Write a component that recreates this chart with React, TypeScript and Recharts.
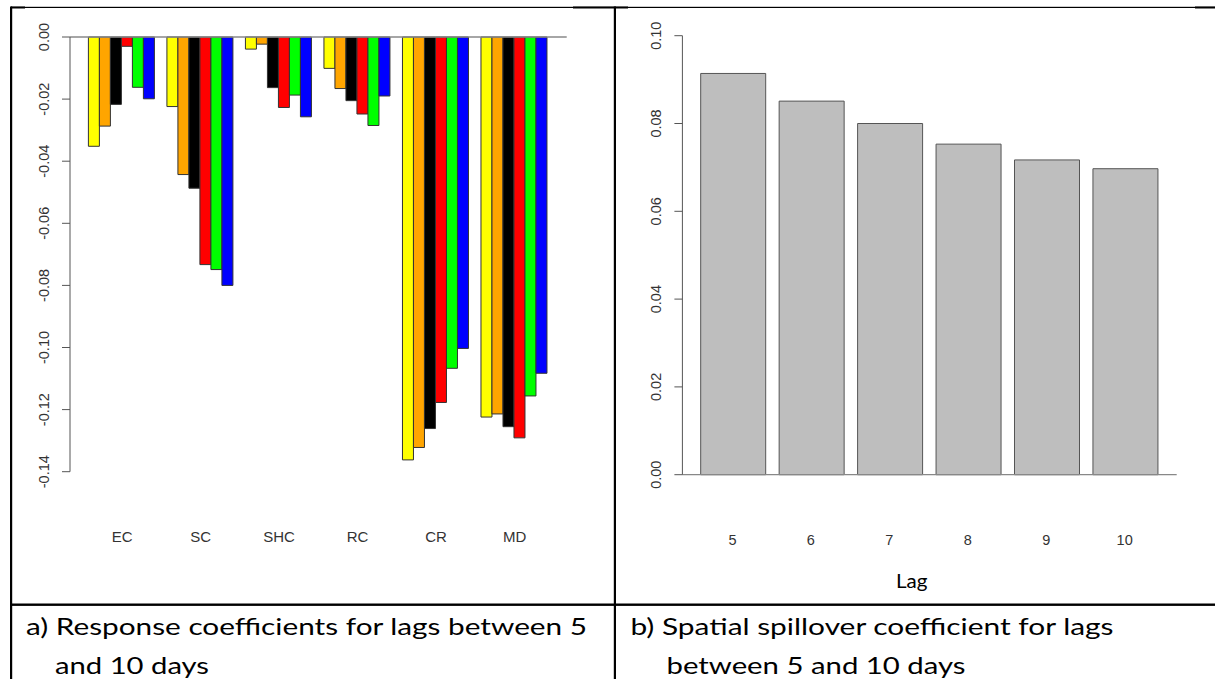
import React from 'react'
import { BarChart, Bar, XAxis, YAxis, ReferenceLine } from 'recharts'

// a) response coefficients, one array per lag (5..10 days)
const categories = ['EC', 'SC', 'SHC', 'RC', 'CR', 'MD']
const lag5 = [-0.0352, -0.0224, -0.0039, -0.0101, -0.1362, -0.1224]
const lag6 = [-0.0287, -0.0443, -0.0023, -0.0166, -0.1322, -0.1214]
const lag7 = [-0.0217, -0.0487, -0.0163, -0.0205, -0.1261, -0.1255]
const lag8 = [-0.003, -0.0733, -0.0227, -0.0248, -0.1177, -0.1291]
const lag9 = [-0.0162, -0.0749, -0.0187, -0.0285, -0.1067, -0.1156]
const lag10 = [-0.0199, -0.08, -0.0257, -0.019, -0.1003, -0.1083]
const lagColors = ['#ffff00', '#ffa500', '#000000', '#ff0000', '#00ff00', '#0000ff']
const leftTicks = [0, -0.02, -0.04, -0.06, -0.08, -0.1, -0.12, -0.14]

// b) spatial spillover coefficient
const lags = ['5', '6', '7', '8', '9', '10']
const spillover = [0.0914, 0.0851, 0.08, 0.0753, 0.0717, 0.0697]
const rightTicks = [0, 0.02, 0.04, 0.06, 0.08, 0.1]

const responseData = categories.map((name, i) => ({
  name,
  l5: lag5[i], l6: lag6[i], l7: lag7[i], l8: lag8[i], l9: lag9[i], l10: lag10[i],
}))
const seriesKeys = ['l5', 'l6', 'l7', 'l8', 'l9', 'l10']
const spillData = lags.map((lag, i) => ({ lag, value: spillover[i] }))

const rFont = '"Liberation Sans", Arial, sans-serif'
const wordFont = 'Lato, "Open Sans", sans-serif'

// R style y tick: label parallel to axis
function RotTick(props: any) {
  const { x, y, payload } = props
  const bx = x - 11
  return (
    <text x={bx} y={y} transform={`rotate(-90, ${bx}, ${y})`} textAnchor="middle"
      fontSize={14.5} fontFamily={rFont} fill="#333">
      {payload.value.toFixed(2)}
    </text>
  )
}

function CatTick(props: any) {
  const { x, y, payload } = props
  return (
    <text x={x} y={y + 70} textAnchor="middle" fontSize={15} fontFamily={rFont} fill="#333">
      {payload.value}
    </text>
  )
}

function LagTick(props: any) {
  const { x, y, payload } = props
  return (
    <text x={x - 1} y={y + 70} textAnchor="middle" fontSize={14.5} fontFamily={rFont} fill="#333">
      {payload.value}
    </text>
  )
}

export default function App() {
  return (
    <div style={{ position: 'absolute', left: 0, top: 0, width: 1215, height: 679, background: '#fff', overflow: 'hidden' }}>
      <div style={{ position: 'absolute', left: 0, top: 0 }}>
        <BarChart width={614} height={600} data={responseData} barGap={0} barCategoryGap={5.6}
          margin={{ top: 37, right: 47.3, bottom: 98.3, left: 10 }}>
          <XAxis dataKey="name" axisLine={false} tickLine={false} tickSize={0} tickMargin={0}
            height={30} padding={{ left: 12.8, right: 12.8 }} tick={<CatTick />} interval={0} />
          <YAxis domain={[-0.14, 0]} ticks={leftTicks} width={60} tickSize={8} tickMargin={2}
            axisLine={{ stroke: '#555' }} tickLine={{ stroke: '#555' }} tick={<RotTick />} interval={0} />
          {seriesKeys.map((k, i) => (
            <Bar key={k} dataKey={k} fill={lagColors[i]} stroke="#333" strokeWidth={1} isAnimationActive={false} />
          ))}
          <ReferenceLine y={0} stroke="#888" strokeWidth={1.3} />
        </BarChart>
      </div>
      <div style={{ position: 'absolute', left: 614, top: 0 }}>
        <BarChart width={601} height={600} data={spillData} barCategoryGap={6.5}
          margin={{ top: 35.7, right: 38.3, bottom: 95.3, left: 8.4 }}>
          <XAxis dataKey="lag" axisLine={false} tickLine={false} tickSize={0} tickMargin={0}
            height={30} padding={{ left: 11.8, right: 11.8 }} tick={<LagTick />} interval={0} />
          <YAxis domain={[0, 0.1]} ticks={rightTicks} width={60} tickSize={8} tickMargin={2}
            axisLine={{ stroke: '#555' }} tickLine={{ stroke: '#555' }} tick={<RotTick />} interval={0} />
          <Bar dataKey="value" fill="#bebebe" stroke="#555" strokeWidth={1} isAnimationActive={false} />
          <ReferenceLine y={0} stroke="#888" strokeWidth={1.3} />
        </BarChart>
      </div>
      <svg width={1215} height={679} style={{ position: 'absolute', left: 0, top: 0, pointerEvents: 'none' }}>
        {/* table borders */}
        <rect x={11} y={6.8} width={1204} height={1.2} fill="#000" />
        <rect x={11} y={6.5} width={14} height={2} fill="#000" />
        <rect x={573} y={6.5} width={55} height={2} fill="#000" />
        <rect x={1195} y={6.5} width={20} height={2} fill="#000" />
        <rect x={10} y={6.5} width={2.2} height={673} fill="#000" />
        <rect x={613.8} y={6.5} width={2.2} height={673} fill="#000" />
        <rect x={10} y={603.5} width={1205} height={2.4} fill="#000" />
        <text x={896} y={588} fontSize={18.5} fontFamily={wordFont} fill="#000"
          textLength={31.5} lengthAdjust="spacingAndGlyphs">Lag</text>
        <g fontSize={23} fontFamily={wordFont} fill="#000">
          <text x={26} y={635} textLength={561} lengthAdjust="spacingAndGlyphs">a) Response coefficients for lags between 5</text>
          <text x={55} y={674} textLength={154} lengthAdjust="spacingAndGlyphs">and 10 days</text>
          <text x={630.5} y={635} textLength={483} lengthAdjust="spacingAndGlyphs">b) Spatial spillover coefficient for lags</text>
          <text x={666.5} y={674} textLength={299} lengthAdjust="spacingAndGlyphs">between 5 and 10 days</text>
        </g>
      </svg>
    </div>
  )
}
